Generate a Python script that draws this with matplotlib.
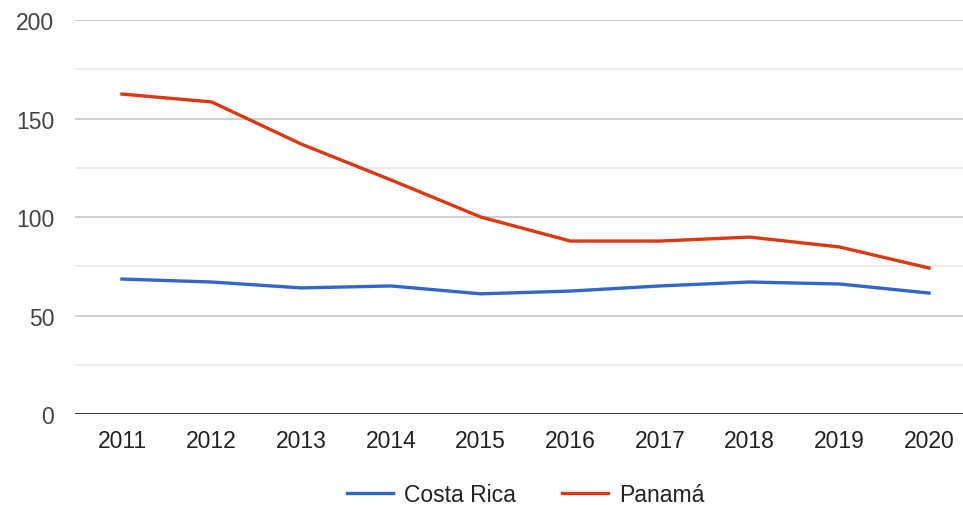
import matplotlib
matplotlib.use("Agg")
import matplotlib.pyplot as plt
from matplotlib.lines import Line2D

years = [2011, 2012, 2013, 2014, 2015, 2016, 2017, 2018, 2019, 2020]
costa_rica = [68.5, 67, 64, 65, 61, 62.4, 65, 67, 66, 61.4]
panama = [162.4, 158.4, 137, 118.8, 100, 87.8, 87.8, 89.8, 84.8, 74.1]
series_names = ["Costa Rica", "Panamá"]
y_ticks = [0, 50, 100, 150, 200]
y_minor = [25, 75, 125, 175]

plt.rcParams['font.family'] = ['Liberation Sans', 'DejaVu Sans']

fig = plt.figure(figsize=(9.63, 5.06), dpi=100)
ax = fig.add_axes([75/963, 1-415/506, 1-75/963, (415-21)/506])

for y in y_minor:
    ax.axhline(y, color='#ebebeb', lw=1.3, zorder=1)
for y in y_ticks[1:]:
    ax.axhline(y, color='#cccccc', lw=1.3, zorder=1)
ax.axhline(0, color='#333333', lw=1.4, zorder=3)

ax.plot(years, costa_rica, color='#3366cc', lw=2.4, zorder=4)
ax.plot(years, panama, color='#dc3912', lw=2.4, zorder=4)

ax.set_ylim(0, 200)
ax.set_xlim(2011 - 47/89.7, 2020 + 34/89.7)
ax.set_yticks(y_ticks)
ax.set_xticks(years)
ax.set_xticklabels([str(y) for y in years])
ax.tick_params(axis='both', length=0, labelsize=16.5, colors='#222222')
ax.tick_params(axis='y', pad=15, labelcolor='#444444')
ax.tick_params(axis='x', pad=11)
for s in ax.spines.values():
    s.set_visible(False)

handles = [Line2D([0], [0], color='#3366cc', lw=2.4),
           Line2D([0], [0], color='#dc3912', lw=2.4)]
fig.legend(handles, series_names, loc='center', bbox_to_anchor=(0.546, 1-496/506),
           ncol=2, frameon=False, fontsize=16.5, handlelength=2.0,
           columnspacing=2.0, handletextpad=0.5, labelcolor='#222222')

fig.savefig("out.png", dpi=100)
